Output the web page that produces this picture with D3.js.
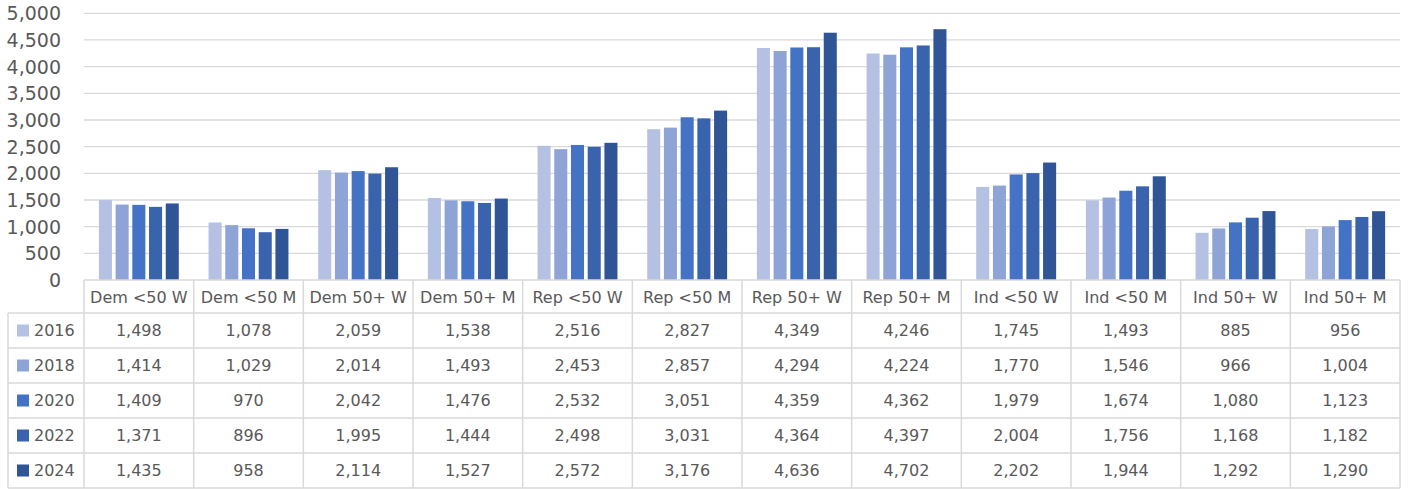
<!DOCTYPE html>
<html><head><meta charset="utf-8">
<script src="https://cdn.jsdelivr.net/npm/d3@7"></script>
<style>body{margin:0;background:#fff}svg{display:block}text{font-family:"DejaVu Sans",sans-serif;fill:#595959}</style>
</head><body>
<svg id="c" width="1408" height="489"></svg>
<script>
const categories = ["Dem <50 W","Dem <50 M","Dem 50+ W","Dem 50+ M","Rep <50 W","Rep <50 M","Rep 50+ W","Rep 50+ M","Ind <50 W","Ind <50 M","Ind 50+ W","Ind 50+ M"];
const years = ["2016","2018","2020","2022","2024"];
const v2016 = [1498,1078,2059,1538,2516,2827,4349,4246,1745,1493,885,956];
const v2018 = [1414,1029,2014,1493,2453,2857,4294,4224,1770,1546,966,1004];
const v2020 = [1409,970,2042,1476,2532,3051,4359,4362,1979,1674,1080,1123];
const v2022 = [1371,896,1995,1444,2498,3031,4364,4397,2004,1756,1168,1182];
const v2024 = [1435,958,2114,1527,2572,3176,4636,4702,2202,1944,1292,1290];
const yTicks = [0,500,1000,1500,2000,2500,3000,3500,4000,4500,5000];
const colors = ["#b4c1e2","#8fa4d6","#4472c4","#3a63ae","#2f5597"];

const series = [v2016,v2018,v2020,v2022,v2024];
const svg = d3.select("#c");
const mLeft = 84, mRight = 1400, mTop = 13.3, mBottom = 280;
const x0 = d3.scaleBand().domain(categories).range([mLeft,mRight]).padding(0);
const x1 = d3.scaleBand().domain(years).range([0,x0.bandwidth()]).paddingInner(0.22).paddingOuter(0.89);
const y = d3.scaleLinear().domain([0,5000]).range([mBottom,mTop]);
const fmt = d3.format(",");

// gridlines
svg.append("g").selectAll("line").data(yTicks.filter(d=>d>0)).join("line")
  .attr("x1",mLeft).attr("x2",mRight).attr("y1",d=>y(d)).attr("y2",d=>y(d))
  .attr("stroke","#d9d9d9").attr("stroke-width",1.3);
// y labels
svg.append("g").selectAll("text").data(yTicks).join("text")
  .attr("x",61).attr("y",d=>y(d)).attr("text-anchor","end").attr("dominant-baseline","central")
  .attr("font-size",19).text(d=>fmt(d));

// bars
years.forEach((yr,si)=>{
  svg.append("g").selectAll("rect").data(series[si]).join("rect")
    .attr("x",(d,i)=>x0(categories[i])+x1(yr)).attr("width",x1.bandwidth())
    .attr("y",d=>y(d)).attr("height",d=>mBottom-y(d)).attr("fill",colors[si]);
});

// table
const rowTop = 313, rowH = 35, tableLeft = 8;
const rowY = i => rowTop + i*rowH;
const g = svg.append("g");
const lc = "#d9d9d9", lw = 1.5;
g.append("line").attr("x1",mLeft).attr("x2",mRight).attr("y1",mBottom).attr("y2",mBottom).attr("stroke",lc).attr("stroke-width",lw);
for(let i=0;i<=years.length;i++){
  g.append("line").attr("x1",tableLeft).attr("x2",mRight).attr("y1",rowY(i)).attr("y2",rowY(i)).attr("stroke",lc).attr("stroke-width",lw);
}
g.append("line").attr("x1",tableLeft).attr("x2",tableLeft).attr("y1",rowTop).attr("y2",rowY(years.length)).attr("stroke",lc).attr("stroke-width",lw);
categories.forEach((c,i)=>{
  g.append("line").attr("x1",x0(c)).attr("x2",x0(c)).attr("y1",mBottom).attr("y2",rowY(years.length)).attr("stroke",lc).attr("stroke-width",lw);
});
g.append("line").attr("x1",mRight).attr("x2",mRight).attr("y1",mBottom).attr("y2",rowY(years.length)).attr("stroke",lc).attr("stroke-width",lw);

// category labels
g.selectAll("text.cat").data(categories).join("text").attr("class","cat")
  .attr("x",d=>x0(d)+x0.bandwidth()/2).attr("y",(mBottom+rowTop)/2+0.5)
  .attr("text-anchor","middle").attr("dominant-baseline","central").attr("font-size",16).text(d=>d);

years.forEach((yr,si)=>{
  const cy = rowY(si)+rowH/2;
  g.append("rect").attr("x",17).attr("y",cy-6).attr("width",12).attr("height",12).attr("fill",colors[si]);
  g.append("text").attr("x",34).attr("y",cy).attr("dominant-baseline","central").attr("font-size",16).text(yr);
  g.append("g").selectAll("text").data(series[si]).join("text")
    .attr("x",(d,i)=>x0(categories[i])+x0.bandwidth()/2).attr("y",cy)
    .attr("text-anchor","middle").attr("dominant-baseline","central").attr("font-size",16).text(d=>fmt(d));
});
</script>
</body></html>
